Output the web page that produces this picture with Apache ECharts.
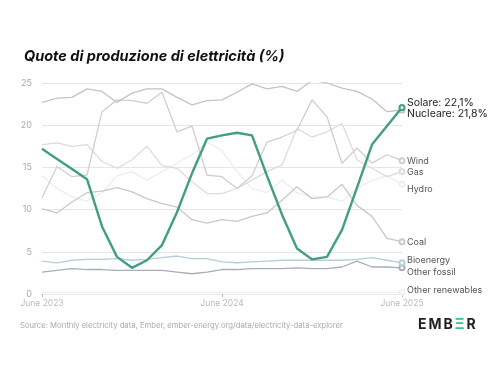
<!DOCTYPE html>
<html><head><meta charset="utf-8">
<script src="https://cdn.jsdelivr.net/npm/echarts@6/dist/echarts.min.js"></script>
<style>html,body{margin:0;padding:0;background:#fff}#c{width:496px;height:366px}</style>
</head><body><div id="c"></div>
<script>
const months = ["June 2023","July 2023","August 2023","September 2023","October 2023","November 2023","December 2023","January 2024","February 2024","March 2024","April 2024","May 2024","June 2024","July 2024","August 2024","September 2024","October 2024","November 2024","December 2024","January 2025","February 2025","March 2025","April 2025","May 2025","June 2025"];
const yTicks = [0,5,10,15,20,25];
const solare = [17.2,16.0,14.8,13.6,8.0,4.4,3.1,4.0,5.8,9.7,14.3,18.4,18.8,19.1,18.8,14.0,9.4,5.4,4.1,4.4,7.6,12.6,17.7,19.9,22.1];
const nucleare = [22.7,23.2,23.3,24.3,24.0,22.7,23.8,24.3,24.3,23.3,22.4,22.9,23.0,23.9,24.9,24.3,24.6,24.0,25.3,25.0,24.4,24.0,23.1,21.6,21.8];
const wind = [11.4,15.1,13.9,14.1,21.6,23.0,22.9,22.6,23.9,19.2,19.9,14.1,13.9,12.5,14.0,18.0,18.6,19.4,23.0,21.0,15.5,17.3,15.5,16.5,15.8];
const gas = [17.7,17.9,17.5,17.7,15.7,14.9,15.9,17.5,15.2,14.9,13.3,11.9,11.9,12.5,13.5,14.5,15.3,19.6,18.6,19.2,20.2,15.9,14.9,13.9,14.5];
const hydro = [14.0,12.5,11.5,11.0,12.0,14.0,14.5,13.5,14.5,15.5,16.5,18.0,17.0,14.5,12.5,12.0,13.5,12.0,11.5,11.5,11.0,12.5,13.5,14.0,13.0];
const coal = [10.1,9.6,10.9,12.0,12.2,12.6,12.1,11.3,10.7,10.3,8.8,8.4,8.8,8.6,9.2,9.6,11.1,12.7,11.3,11.5,13.0,10.5,9.2,6.6,6.2];
const bioenergy = [3.9,3.7,4.0,4.1,4.1,4.2,4.0,4.1,4.3,4.5,4.2,4.2,3.8,3.7,3.8,3.9,4.0,4.0,4.0,4.0,4.0,4.1,4.3,4.0,3.7];
const otherFossil = [2.6,2.8,3.0,2.9,2.9,2.8,2.8,2.8,2.8,2.6,2.4,2.6,2.9,2.9,3.0,3.0,3.0,3.1,3.0,3.0,3.2,3.9,3.2,3.2,3.1];
const otherRenew = [0.2,0.2,0.2,0.2,0.2,0.2,0.2,0.2,0.2,0.2,0.2,0.2,0.2,0.2,0.2,0.2,0.2,0.2,0.2,0.2,0.2,0.2,0.2,0.2,0.2];

const last = months.length - 1;
function mk(name, data, color, width, label, z, labelOpts) {
  return {
    name, type: 'line', data, z: z || 2, smooth: false, showSymbol: true, showAllSymbol: true,
    symbol: 'emptyCircle',
    symbolSize: (v, p) => p.dataIndex === last ? 5 : 0,
    itemStyle: { color: color, borderWidth: 1 },
    lineStyle: { color: color, width: width },
    emphasis: { disabled: true },
    endLabel: Object.assign({ show: true, formatter: label, color: '#555', fontSize: 9, fontFamily: 'Inter, sans-serif', distance: 5 }, labelOpts || {})
  };
}
const chart = echarts.init(document.getElementById('c'), null, { renderer: 'canvas' });
chart.setOption({
  animation: false,
  backgroundColor: '#fff',
  title: {
    text: 'Quote di produzione di elettricità (%)', left: 19, top: 44,
    textStyle: { fontSize: 14.5, fontWeight: 'bold', fontStyle: 'italic', color: '#111', fontFamily: 'Inter, sans-serif' }
  },
  grid: { left: 42, right: 94, top: 83, bottom: 72 },
  xAxis: {
    type: 'category', data: months, boundaryGap: false,
    axisLine: { show: false },
    axisTick: { show: true, length: 3, lineStyle: { color: '#bbb' }, interval: (i) => i % 12 === 0 },
    axisLabel: { interval: (i) => i % 12 === 0, color: '#bbb', fontSize: 8.5, fontFamily: 'Inter, sans-serif', margin: 5 },
    splitLine: { show: false }
  },
  yAxis: {
    type: 'value', min: yTicks[0], max: yTicks[yTicks.length - 1], interval: 5,
    axisLine: { show: false }, axisTick: { show: false },
    axisLabel: { color: '#aaa', fontSize: 9, fontFamily: 'Inter, sans-serif', margin: 10 },
    splitLine: { lineStyle: { color: '#e6e6e6', width: 1 } }
  },
  series: [
    mk('Other renewables', otherRenew, '#efefef', 1.3, 'Other renewables', 1, { offset: [0, -2] }),
    mk('Other fossil', otherFossil, '#a9adb6', 1.3, 'Other fossil', 2, { offset: [0, 4] }),
    mk('Bioenergy', bioenergy, '#b9cdd8', 1.3, 'Bioenergy', 2, { offset: [0, -2] }),
    mk('Coal', coal, '#c9c9c9', 1.3, 'Coal', 2, { offset: [0, 1] }),
    mk('Hydro', hydro, '#ededed', 1.3, 'Hydro', 1, { offset: [0, 5] }),
    mk('Gas', gas, '#dcdcdc', 1.3, 'Gas', 2, { offset: [0, 1] }),
    mk('Wind', wind, '#cfcfcf', 1.3, 'Wind', 2, { offset: [0, 1] }),
    mk('Nucleare', nucleare, '#c3c3c8', 1.3, 'Nucleare: 21,8%', 3, { color: '#222', fontSize: 10.5, offset: [0, 4] }),
    mk('Solare', solare, '#3f9f7f', 2.4, 'Solare: 22,1%', 5, { color: '#222', fontSize: 10.5, offset: [0, -5] })
  ],
  graphic: [
    { type: 'text', left: 20, top: 322, style: { text: 'Source: Monthly electricity data, Ember, ember-energy.org/data/electricity-data-explorer', fill: '#aaa', fontSize: 7.7, fontFamily: 'Inter, sans-serif' } },
    { type: 'text', left: 418, top: 318, style: { text: '{a|E}{a|M}{a|B}{b|Ξ}{a|R}', rich: { a: { fill: '#222', fontSize: 14, fontWeight: 'bold', fontFamily: 'Inter, sans-serif', padding: [0, 1, 0, 1] }, b: { fill: '#2fc39a', fontSize: 14, fontWeight: 'bold', fontFamily: 'Inter, sans-serif', padding: [0, 1, 0, 1] } } } }
  ]
});
</script></body></html>
